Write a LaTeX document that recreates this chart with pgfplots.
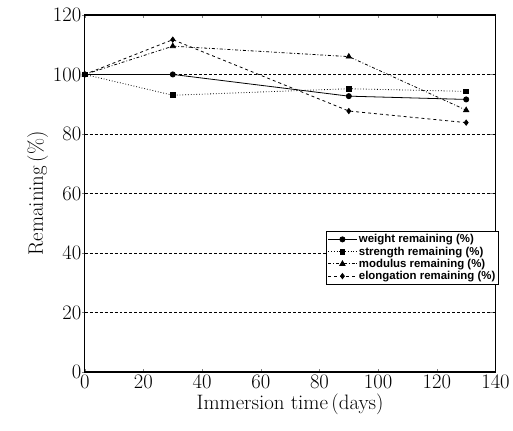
\documentclass[border=0pt]{standalone}
\usepackage{pgfplots}
\pgfplotsset{compat=1.18}
\usepackage{fontspec}
\newfontfamily\legfont{Liberation Sans}

\begin{document}
\begin{tikzpicture}
\begin{axis}[
    name=ax,
    scale only axis,
    width=412bp, height=358bp,
    xmin=0, xmax=140, ymin=0, ymax=120,
    xtick={0,20,...,140}, ytick={0,20,...,120},
    tick align=inside,
    major tick length=3bp,
    ytick style={xshift=-3bp},
    axis line style={line width=1.3pt},
    ymajorgrids,
    grid style={dash pattern=on 3pt off 2pt, black, line width=0.5pt},
    tick label style={font=\fontsize{21}{23}\selectfont},
    label style={font=\fontsize{21}{23}\selectfont},
    xlabel={Immersion time\,(days)},
    ylabel={Remaining\,(\%)},
    xlabel style={yshift=2bp},
    ylabel style={yshift=-2bp},
    legend style={at={(rel axis cs:1.008,0.245)}, anchor=south east,
        font=\legfont\bfseries\fontsize{11.5}{10}\selectfont, draw=black, line width=0.9pt,
        inner sep=1pt, row sep=-1.5pt, cells={anchor=west}},
    legend cell align=left,
    legend image code/.code={
        \draw[mark repeat=2, mark phase=2, line width=0.8pt]
            plot coordinates {(0cm,0cm) (0.5cm,0cm) (1.0cm,0cm)};},
]
\addplot[black, line width=0.8pt, mark=*, mark size=2.6pt, mark options={solid}]
  coordinates {(0,100) (30,100) (90,92.7) (130,91.6)};
\addlegendentry{weight remaining (\%)}
\addplot[black, line width=0.8pt, dotted, mark=square*, mark size=2.4pt, mark options={solid}]
  coordinates {(0,100) (30,93) (90,95.2) (130,94.3)};
\addlegendentry{strength remaining (\%)}
\addplot[black, line width=0.8pt, dash dot, mark=triangle*, mark size=3pt, mark options={solid}]
  coordinates {(0,100) (30,109.5) (90,106) (130,88)};
\addlegendentry{modulus remaining (\%)}
\addplot[black, line width=0.8pt, dashed, mark=diamond*, mark size=2.6pt, mark options={solid}]
  coordinates {(0,100) (30,111.7) (90,87.7) (130,83.8)};
\addlegendentry{elongation remaining (\%)}
\end{axis}
\path[use as bounding box] ([shift={(-85bp,-59bp)}]ax.south west) rectangle ([shift={(16bp,15bp)}]ax.north east);
\end{tikzpicture}
\end{document}
